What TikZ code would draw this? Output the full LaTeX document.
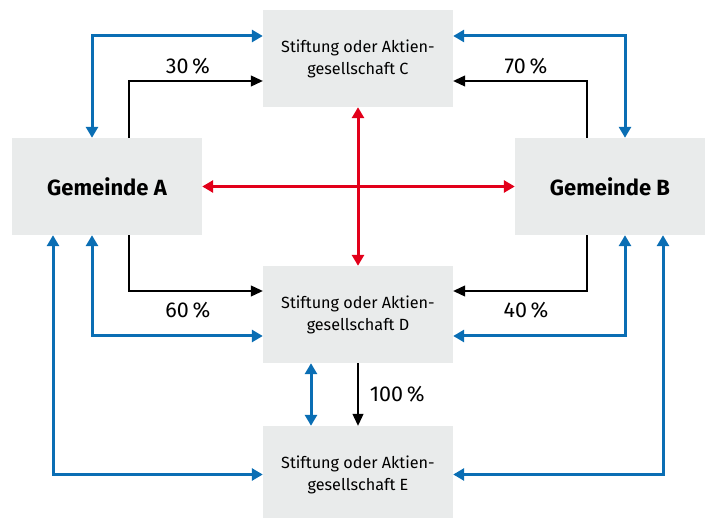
\documentclass[tikz,border=0pt]{standalone}
\usepackage{fontspec}
\setmainfont{Fira Sans}
\usetikzlibrary{arrows.meta}
\definecolor{linkblue}{HTML}{0A6EB4}
\definecolor{linkred}{HTML}{E2001A}
\definecolor{boxgray}{HTML}{E9EBEB}
\tikzset{
  firm/.style={fill=boxgray, minimum width=190pt, minimum height=97pt, align=center, font=\fontsize{16.2}{22}\selectfont},
  gemeinde/.style={firm, font=\fontsize{22}{24}\selectfont\bfseries},
  bluelink/.style={linkblue, line width=3pt, {Triangle[length=11pt,width=12pt]}-{Triangle[length=11pt,width=12pt]}},
  redlink/.style={linkred, line width=3pt, {Triangle[length=11pt,width=12pt]}-{Triangle[length=11pt,width=12pt]}},
  share/.style={black, line width=1.1pt, -{Triangle[length=12pt,width=11pt]}},
  pct/.style={font=\fontsize{21.5}{23}\selectfont}
}
\begin{document}
\begin{tikzpicture}[x=1pt, y=-1pt]
        \path[use as bounding box, clip] (0,0) rectangle (712,518);
        \node[firm] (C) at (358,58.5) {Stiftung oder Aktien-\\gesellschaft C};
        \node[gemeinde] (A) at (107,186.5) {Gemeinde A};
        \node[gemeinde] (B) at (610,186.5) {Gemeinde B};
        \node[firm] (D) at (358,314.5) {Stiftung oder Aktien-\\gesellschaft D};
        \node[firm] (E) at (358,474.5) {Stiftung oder Aktien-\\gesellschaft E};
        \draw[redlink] (A.east) -- (B.west);
        \draw[redlink] (C.south) -- (D.north);
        \draw[bluelink] ([xshift=-15pt]A.north) |- ([yshift=22.5pt]C.west);
        \draw[bluelink] ([xshift=15pt]B.north) |- ([yshift=22.5pt]C.east);
        \draw[bluelink] ([xshift=-15pt]A.south) |- ([yshift=-21.5pt]D.west);
        \draw[bluelink] ([xshift=15pt]B.south) |- ([yshift=-21.5pt]D.east);
        \draw[bluelink] ([xshift=-54pt]A.south) |- (E.west);
        \draw[bluelink] ([xshift=53pt]B.south) |- (E.east);
        \draw[bluelink] ([xshift=-47pt]D.south) -- ([xshift=-47pt]E.north);
        \draw[share] ([xshift=22pt]A.north) |- ([yshift=-22.5pt]C.west)
            node[pct, pos=0.72, above=3pt] (p30) {30\,\%};
        \draw[share] ([xshift=-23pt]B.north) |- ([yshift=-22.5pt]C.east)
            node[pct, pos=0.728, above=3pt] (p70) {70\,\%};
        \draw[share] ([xshift=22pt]A.south) |- ([yshift=23.5pt]D.west)
            node[pct, pos=0.72, below=7pt] (p60) {60\,\%};
        \draw[share] ([xshift=-23pt]B.south) |- ([yshift=23.5pt]D.east)
            node[pct, pos=0.728, below=7pt] (p40) {40\,\%};
        \draw[share] (D.south) -- (E.north)
            node[pct, midway, right=8pt] (p100) {100\,\%};
    \end{tikzpicture}
\end{document}
